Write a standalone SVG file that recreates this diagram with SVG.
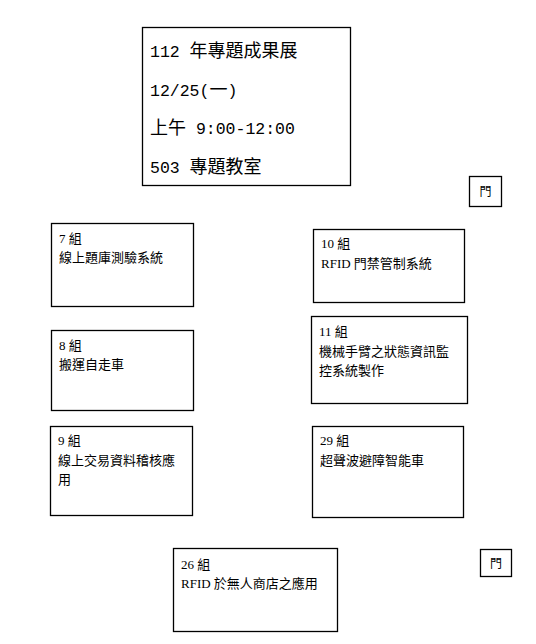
<svg xmlns="http://www.w3.org/2000/svg" width="536" height="644" viewBox="0 0 536 644">
<style>
.box{fill:#fff;stroke:#000;stroke-width:1.3}
.t{font-family:"Liberation Serif","Noto Sans CJK TC",serif;fill:#000}
.big{font-size:18px}
.m{font-family:"Liberation Mono",monospace;font-size:16.5px}
.sm{font-size:13px}
.door{font-size:12px;text-anchor:middle}
</style>
<rect width="536" height="644" fill="#fff"/>
<g id="title">
<rect class="box" x="142.5" y="27.5" width="208" height="158"/>
<text class="t big" x="150" y="57"><tspan class="m">112 </tspan>年專題成果展</text>
<text class="t big" x="150" y="96"><tspan class="m">12/25(</tspan>一<tspan class="m">)</tspan></text>
<text class="t big" x="150" y="134">上午<tspan class="m"> 9:00-12:00</tspan></text>
<text class="t big" x="150" y="173"><tspan class="m">503 </tspan>專題教室</text>
</g>
<g id="door1">
<rect class="box" x="469.5" y="176.5" width="32" height="30"/>
<text class="t door" x="485.5" y="196">門</text>
</g>
<g id="g7">
<rect class="box" x="51.5" y="223.5" width="142" height="83"/>
<text class="t sm" x="59" y="243">7 組</text>
<text class="t sm" x="59" y="262">線上題庫測驗系統</text>
</g>
<g id="g10">
<rect class="box" x="313.5" y="229.5" width="151" height="73"/>
<text class="t sm" x="321" y="248">10 組</text>
<text class="t sm" x="321" y="268">RFID 門禁管制系統</text>
</g>
<g id="g8">
<rect class="box" x="51.5" y="330.5" width="142" height="80"/>
<text class="t sm" x="59" y="350">8 組</text>
<text class="t sm" x="59" y="369">搬運自走車</text>
</g>
<g id="g11">
<rect class="box" x="311.5" y="316.5" width="156" height="87"/>
<text class="t sm" x="319" y="336">11 組</text>
<text class="t sm" x="319" y="356">機械手臂之狀態資訊監</text>
<text class="t sm" x="319" y="375">控系統製作</text>
</g>
<g id="g9">
<rect class="box" x="50.5" y="426.5" width="142" height="89"/>
<text class="t sm" x="58" y="445">9 組</text>
<text class="t sm" x="58" y="465">線上交易資料稽核應</text>
<text class="t sm" x="58" y="484">用</text>
</g>
<g id="g29">
<rect class="box" x="312.5" y="426.5" width="151" height="91"/>
<text class="t sm" x="320" y="445">29 組</text>
<text class="t sm" x="320" y="465">超聲波避障智能車</text>
</g>
<g id="g26">
<rect class="box" x="173.5" y="548.5" width="164" height="83"/>
<text class="t sm" x="181" y="569">26 組</text>
<text class="t sm" x="181" y="588">RFID 於無人商店之應用</text>
</g>
<g id="door2">
<rect class="box" x="480.5" y="549.5" width="31" height="27"/>
<text class="t door" x="496" y="568">門</text>
</g>
<g id="connectors"></g>
</svg>
